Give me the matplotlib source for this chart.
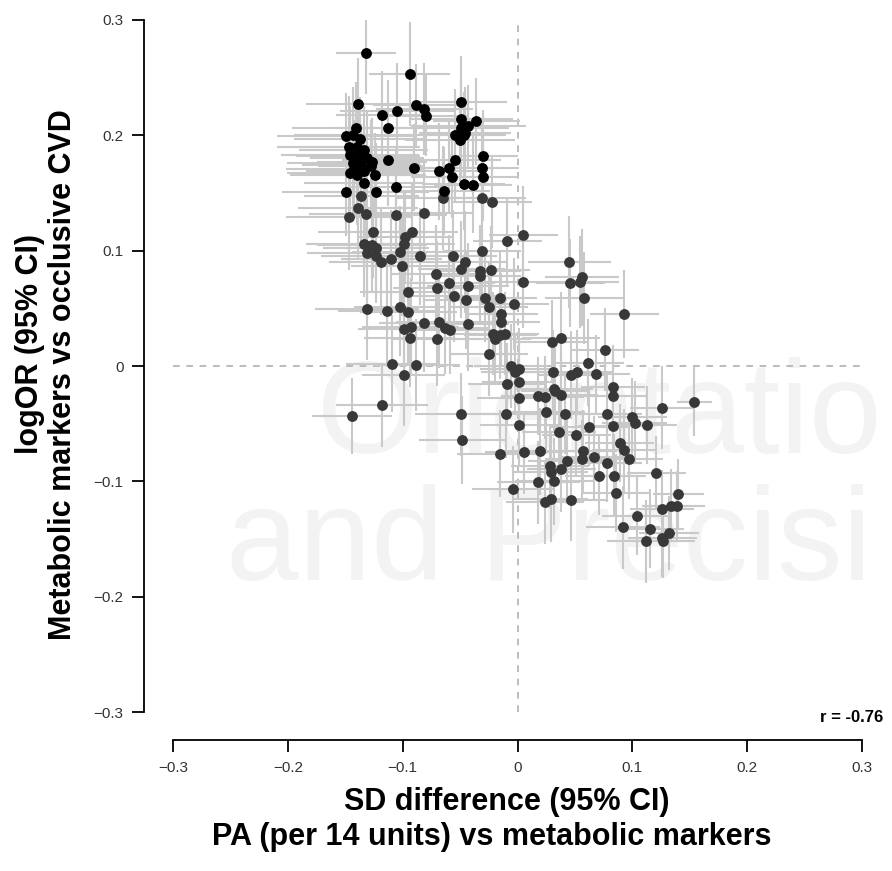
import matplotlib.pyplot as plt

plt.rcParams['font.family'] = ['Liberation Sans', 'DejaVu Sans']

# metabolic markers strongly tied to occlusive CVD (black)
black_x = [-0.132, -0.094, -0.139, -0.118, -0.105, -0.088, -0.081, -0.080, -0.113, -0.049,
           -0.049, -0.036, -0.043, -0.049, -0.054, -0.047, -0.050, -0.046, -0.141, -0.149,
           -0.143, -0.137, -0.147, -0.140, -0.134, -0.146, -0.139, -0.131, -0.127, -0.143,
           -0.136, -0.128, -0.142, -0.146, -0.134, -0.124, -0.140, -0.134, -0.149, -0.123,
           -0.106, -0.113, -0.090, -0.068, -0.060, -0.057, -0.054, -0.030, -0.031, -0.030,
           -0.047, -0.039, -0.064]
black_y = [0.271, 0.253, 0.227, 0.218, 0.221, 0.226, 0.223, 0.217, 0.206, 0.229,
           0.214, 0.212, 0.208, 0.206, 0.200, 0.200, 0.196, 0.202, 0.206, 0.199,
           0.200, 0.197, 0.190, 0.190, 0.187, 0.183, 0.182, 0.180, 0.177, 0.176,
           0.174, 0.173, 0.171, 0.167, 0.169, 0.166, 0.166, 0.159, 0.151, 0.151,
           0.155, 0.179, 0.172, 0.169, 0.172, 0.164, 0.179, 0.182, 0.172, 0.164,
           0.158, 0.157, 0.152]
black_xerr = [0.026, 0.035, 0.045, 0.040, 0.050, 0.038, 0.042, 0.036, 0.048, 0.040,
              0.045, 0.038, 0.050, 0.042, 0.044, 0.036, 0.048, 0.040, 0.055, 0.060,
              0.052, 0.058, 0.062, 0.050, 0.056, 0.060, 0.054, 0.050, 0.048, 0.058,
              0.052, 0.046, 0.060, 0.055, 0.050, 0.044, 0.058, 0.052, 0.056, 0.046,
              0.042, 0.040, 0.038, 0.040, 0.042, 0.036, 0.040, 0.030, 0.032, 0.030,
              0.036, 0.034, 0.040]
black_yerr = [0.035, 0.045, 0.040, 0.038, 0.042, 0.036, 0.040, 0.035, 0.042, 0.040,
              0.044, 0.038, 0.036, 0.042, 0.040, 0.038, 0.036, 0.040, 0.040, 0.038,
              0.042, 0.036, 0.044, 0.040, 0.038, 0.042, 0.036, 0.040, 0.038, 0.044,
              0.036, 0.040, 0.042, 0.038, 0.040, 0.036, 0.044, 0.040, 0.038, 0.042,
              0.036, 0.040, 0.038, 0.042, 0.040, 0.036, 0.038, 0.040, 0.036, 0.038,
              0.040, 0.042, 0.038]

# all other metabolic markers (dark grey)
grey_x = [-0.136, -0.065, -0.031, -0.022, -0.139, -0.132, -0.147, -0.106, -0.081, -0.126,
          -0.092, -0.098, -0.099, -0.134, -0.127, -0.123, -0.131, -0.123, -0.119, -0.110,
          -0.102, -0.101, -0.085, -0.056, -0.046, -0.049, -0.031, -0.009, -0.071, -0.033,
          -0.023, -0.033, -0.060, -0.070, -0.043, -0.095, -0.055, -0.045, -0.028, -0.015,
          -0.025, -0.003, -0.131, -0.114, -0.102, -0.095, -0.014, -0.014, -0.081, -0.068,
          -0.043, -0.099, -0.093, -0.063, -0.059, -0.094, -0.070, -0.021, -0.015, -0.011,
          -0.020, -0.025, -0.109, -0.088, -0.099, -0.006, -0.002, -0.009, 0.005, 0.005,
          0.045, 0.056, 0.054, 0.046, 0.058, 0.093, 0.030, 0.038, 0.076, 0.061,
          0.001, 0.001, 0.031, 0.047, 0.052, 0.068, 0.083, 0.032, 0.001, 0.018,
          0.024, 0.033, 0.038, 0.083, 0.126, 0.154, -0.010, 0.025, 0.041, 0.078,
          0.100, 0.102, 0.113, 0.001, 0.036, 0.051, 0.062, 0.083, 0.089, 0.093,
          0.097, -0.015, 0.006, 0.020, 0.057, 0.056, 0.067, 0.043, 0.078, 0.028,
          0.029, 0.038, 0.071, 0.084, 0.121, 0.032, 0.018, -0.004, 0.086, 0.140,
          0.024, 0.029, 0.047, 0.126, 0.134, 0.139, 0.104, 0.092, 0.115, 0.132,
          0.126, 0.112, 0.127, -0.118, -0.144, -0.049, -0.048]
grey_y = [0.147, 0.146, 0.146, 0.142, 0.137, 0.132, 0.129, 0.131, 0.133, 0.116,
          0.116, 0.112, 0.106, 0.106, 0.105, 0.102, 0.098, 0.095, 0.090, 0.093,
          0.099, 0.087, 0.095, 0.095, 0.090, 0.084, 0.100, 0.108, 0.080, 0.082,
          0.083, 0.078, 0.072, 0.068, 0.069, 0.064, 0.061, 0.057, 0.059, 0.059,
          0.051, 0.054, 0.049, 0.048, 0.051, 0.047, 0.045, 0.038, 0.037, 0.038,
          0.036, 0.032, 0.034, 0.033, 0.031, 0.024, 0.023, 0.028, 0.027, 0.028,
          0.023, 0.010, 0.002, 0.001, -0.008, 0.000, -0.005, -0.016, 0.114, 0.073,
          0.090, 0.077, 0.073, 0.072, 0.059, 0.045, 0.021, 0.024, 0.014, 0.003,
          -0.003, -0.014, -0.005, -0.008, -0.005, -0.007, -0.018, -0.020, -0.028, -0.026,
          -0.027, -0.022, -0.025, -0.026, -0.036, -0.031, -0.042, -0.040, -0.042, -0.042,
          -0.044, -0.049, -0.051, -0.051, -0.057, -0.060, -0.053, -0.052, -0.067, -0.073,
          -0.081, -0.076, -0.075, -0.074, -0.074, -0.081, -0.079, -0.082, -0.084, -0.087,
          -0.092, -0.089, -0.095, -0.095, -0.093, -0.100, -0.101, -0.107, -0.110, -0.111,
          -0.118, -0.115, -0.116, -0.124, -0.121, -0.121, -0.130, -0.140, -0.141, -0.145,
          -0.149, -0.152, -0.152, -0.034, -0.043, -0.042, -0.064]
grey_xerr = [0.050, 0.040, 0.038, 0.035, 0.052, 0.050, 0.055, 0.045, 0.042, 0.048,
             0.040, 0.042, 0.045, 0.050, 0.048, 0.046, 0.052, 0.048, 0.045, 0.044,
             0.042, 0.044, 0.040, 0.038, 0.036, 0.038, 0.034, 0.030, 0.040, 0.036,
             0.034, 0.036, 0.040, 0.038, 0.036, 0.042, 0.038, 0.036, 0.034, 0.032,
             0.034, 0.030, 0.045, 0.042, 0.040, 0.042, 0.032, 0.034, 0.040, 0.038,
             0.036, 0.040, 0.042, 0.038, 0.036, 0.040, 0.038, 0.034, 0.032, 0.030,
             0.032, 0.034, 0.040, 0.038, 0.036, 0.032, 0.030, 0.034, 0.030, 0.034,
             0.036, 0.032, 0.034, 0.030, 0.034, 0.030, 0.032, 0.034, 0.030, 0.032,
             0.034, 0.032, 0.034, 0.030, 0.032, 0.030, 0.028, 0.034, 0.036, 0.032,
             0.034, 0.030, 0.032, 0.030, 0.028, 0.015, 0.036, 0.034, 0.032, 0.030,
             0.030, 0.028, 0.026, 0.034, 0.032, 0.030, 0.034, 0.030, 0.030, 0.028,
             0.030, 0.038, 0.034, 0.032, 0.030, 0.032, 0.030, 0.034, 0.030, 0.034,
             0.032, 0.030, 0.030, 0.028, 0.026, 0.034, 0.036, 0.036, 0.030, 0.022,
             0.034, 0.032, 0.030, 0.028, 0.026, 0.024, 0.030, 0.032, 0.030, 0.026,
             0.030, 0.034, 0.028, 0.040, 0.035, 0.040, 0.038]
grey_yerr = [0.040, 0.045, 0.042, 0.040, 0.044, 0.040, 0.046, 0.042, 0.044, 0.040,
             0.042, 0.040, 0.044, 0.046, 0.040, 0.042, 0.044, 0.040, 0.046, 0.042,
             0.040, 0.044, 0.042, 0.040, 0.044, 0.042, 0.040, 0.038, 0.042, 0.040,
             0.038, 0.040, 0.042, 0.040, 0.038, 0.044, 0.040, 0.042, 0.038, 0.040,
             0.038, 0.040, 0.044, 0.046, 0.042, 0.044, 0.036, 0.038, 0.042, 0.040,
             0.040, 0.044, 0.042, 0.040, 0.038, 0.042, 0.040, 0.036, 0.038, 0.036,
             0.038, 0.036, 0.042, 0.040, 0.044, 0.036, 0.034, 0.036, 0.042, 0.040,
             0.040, 0.042, 0.040, 0.038, 0.040, 0.038, 0.036, 0.040, 0.036, 0.038,
             0.036, 0.034, 0.036, 0.038, 0.036, 0.034, 0.036, 0.038, 0.036, 0.034,
             0.036, 0.038, 0.036, 0.034, 0.036, 0.030, 0.038, 0.036, 0.034, 0.036,
             0.034, 0.036, 0.034, 0.036, 0.038, 0.036, 0.034, 0.036, 0.034, 0.036,
             0.034, 0.038, 0.036, 0.038, 0.036, 0.034, 0.036, 0.038, 0.034, 0.036,
             0.036, 0.038, 0.034, 0.036, 0.032, 0.038, 0.036, 0.038, 0.034, 0.030,
             0.036, 0.038, 0.036, 0.034, 0.032, 0.030, 0.034, 0.036, 0.034, 0.032,
             0.034, 0.036, 0.032, 0.036, 0.033, 0.036, 0.038]

ticks = [-0.3, -0.2, -0.1, 0, 0.1, 0.2, 0.3]
tick_labels = ['\u22120.3', '\u22120.2', '\u22120.1', '0', '0.1', '0.2', '0.3']

W, H = 892, 871
fig = plt.figure(figsize=(W / 100, H / 100), dpi=100)
fig.patch.set_facecolor('white')

# faint watermark behind the plot
fig.text(317 / W, 1 - 453 / H, 'Orientatio', fontsize=94, color='#f3f3f3',
         ha='left', va='baseline', zorder=-2)
fig.text(226 / W, 1 - 580 / H, 'and Precisi', fontsize=94, color='#f3f3f3',
         ha='left', va='baseline', zorder=-2)

ax = fig.add_axes([173 / W, 1 - 712 / H, 689 / W, 692 / H])
ax.set_facecolor('none')
ax.set_xlim(-0.3, 0.3)
ax.set_ylim(-0.3, 0.3)

ax.axvline(0, color='#b0b0b0', lw=1.2, ls=(0, (4, 4)), zorder=1)
ax.axhline(0, color='#b0b0b0', lw=1.2, ls=(0, (4, 4)), zorder=1)

bar_style = dict(fmt='none', ecolor='#c9c9c9', elinewidth=1.5, capsize=0, zorder=2)
ax.errorbar(grey_x, grey_y, xerr=grey_xerr, yerr=grey_yerr, **bar_style)
ax.errorbar(black_x, black_y, xerr=black_xerr, yerr=black_yerr, **bar_style)
ax.plot(grey_x, grey_y, 'o', color='#383838', ms=7.8, mew=0, zorder=3)
ax.plot(black_x, black_y, 'o', color='#000000', ms=7.8, mew=0, zorder=4)

for side in ['top', 'right']:
    ax.spines[side].set_visible(False)
ax.spines['left'].set_position(('outward', 21))
ax.spines['bottom'].set_position(('outward', 20))
for side in ['left', 'bottom']:
    ax.spines[side].set_linewidth(1.3)

ax.set_xticks(ticks)
ax.set_xticklabels(tick_labels)
ax.set_yticks(ticks)
ax.set_yticklabels(tick_labels)
ax.tick_params(axis='both', direction='out', length=8.5, width=1.3, labelsize=11,
               color='black', labelcolor='#333333')
ax.tick_params(axis='x', pad=7)
ax.tick_params(axis='y', pad=6)

fig.text(883 / W, 1 - 717 / H, 'r = -0.76', ha='right', va='center',
         fontsize=12, fontweight='bold')

# axis titles, two lines each
fig.text(507 / W, 1 - 802 / H, 'SD difference (95% CI)', ha='center', va='center',
         fontsize=22, fontweight='bold')
fig.text(492 / W, 1 - 837 / H, 'PA (per 14 units) vs metabolic markers', ha='center',
         va='center', fontsize=22, fontweight='bold')
fig.text(30 / W, 1 - 344 / H, 'logOR (95% CI)', ha='center', va='center', rotation=90,
         fontsize=22, fontweight='bold')
fig.text(63 / W, 1 - 375 / H, 'Metabolic markers vs occlusive CVD', ha='center',
         va='center', rotation=90, fontsize=22, fontweight='bold')

fig.savefig('out.png', dpi=100)
